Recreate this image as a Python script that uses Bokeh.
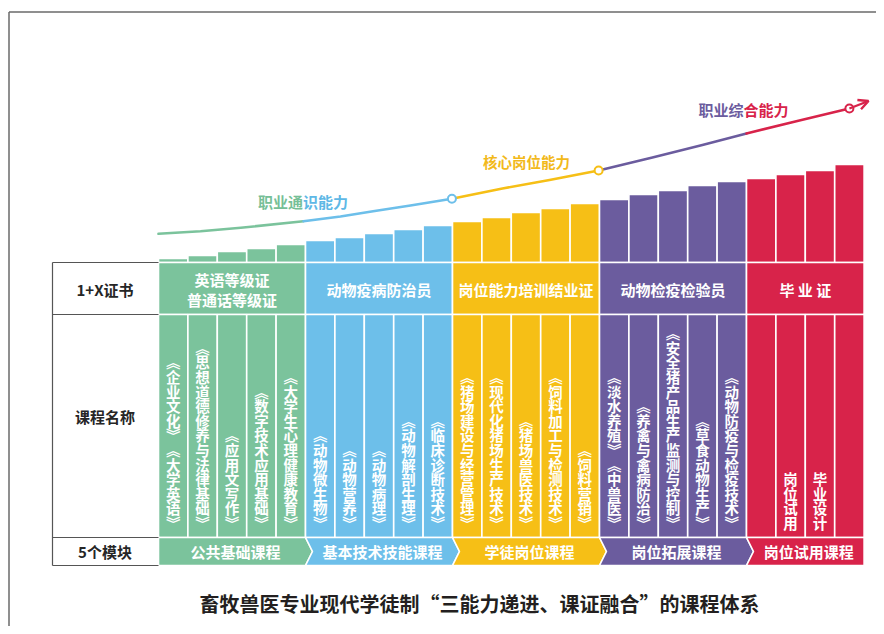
from bokeh.plotting import figure
from bokeh.models import Range1d, ColumnDataSource, Arrow, OpenHead
from bokeh.core.properties import value
from bokeh.embed import file_html
from bokeh.resources import INLINE

FONT = "Noto Sans CJK SC"

# ---------------- data ----------------
modules = ["公共基础课程", "基本技术技能课程", "学徒岗位课程", "岗位拓展课程", "岗位试用课程"]
certificates = ["英语等级证\n普通话等级证", "动物疫病防治员", "岗位能力培训结业证", "动物检疫检验员", "毕 业 证"]
group_sizes = [5, 5, 5, 5, 4]
group_colors = ["#7BC39C", "#6DBFEA", "#F6BF16", "#6B5C9E", "#D8234A"]
row_labels = ["1+X证书", "课程名称", "5个模块"]
courses = [
    "《企业文化》《大学英语》", "《思想道德修养与法律基础》", "《应用文写作》", "《数字技术应用基础》", "《大学生心理健康教育》",
    "《动物微生物》", "《动物营养》", "《动物病理》", "《动物解剖生理》", "《临床诊断技术》",
    "《猪场建设与经营管理》", "《现代化猪场生产技术》", "《猪场兽医技术》", "《饲料加工与检测技术》", "《饲料营销》",
    "《淡水养殖》《中兽医》", "《养禽与禽病防治》", "《安全猪产品生产监测与控制》", "《草食动物生产》", "《动物防疫与检疫技术》",
    "", "岗位试用", "毕业设计", "",
]
bar_levels = [4, 7, 11, 14, 18, 22, 25, 29, 33, 37, 41, 45, 50, 54, 59, 63, 68, 72, 77, 81, 84, 88, 92, 98]

# ability curve (x in course-column units, y in level units)
curve_x = [0, 1.43, 2.8, 4.93, 6.19, 7.3, 8.57, 9.98, 11.7, 13.3, 14.97, 16.8, 18.5, 20.0, 21.8, 23.5]
curve_y = [28.7, 31.3, 34.7, 41.3, 46.0, 51.3, 57.0, 63.7, 74.0, 82.5, 92.0, 105.0, 117.5, 129.0, 142.0, 154.0]
curve_breaks = [0, 3, 7, 10, 13, 15]          # indices where the curve colour changes
curve_colors = ["#7BC39C", "#6DBFEA", "#F6BF16", "#6B5C9E", "#D8234A"]
milestone_idx = [7, 10, 15]
milestone_colors = ["#6DBFEA", "#F6BF16", "#D8234A"]
arrow_tip = (24.15, 161.5)
title = "畜牧兽医专业现代学徒制“三能力递进、课证融合”的课程体系"

# ---------------- layout helpers (pixel -> data) ----------------
PITCH = 29.4
def X(px):
    return (px - 158.0) / PITCH
def Y(py):
    return 262.0 - py

W, H = 876, 626
p = figure(width=W, height=H, x_range=Range1d(X(0), X(W)), y_range=Range1d(Y(H), Y(0)),
           output_backend="svg", toolbar_location=None, min_border=0, title=None,
           x_axis_location=None, y_axis_location=None)
p.grid.visible = False
p.outline_line_color = None
p.background_fill_color = "white"
p.border_fill_color = "white"

# frame lines of the picture
p.line([X(8.5), X(884)], [Y(11.5), Y(11.5)], line_color="#6a6a6a", line_width=1.5)
p.line([X(8.5), X(8.5)], [Y(11.5), Y(640)], line_color="#6a6a6a", line_width=1.5)

# column -> group
col_group = [g for g, n in enumerate(group_sizes) for _ in range(n)]
starts = []
s = 0
for n in group_sizes:
    starts.append(s)
    s += n
ends = [st + n for st, n in zip(starts, group_sizes)]
ncol = len(courses)

# bars
bars = ColumnDataSource(dict(x=[i + 0.5 for i in range(ncol)], top=bar_levels,
                             color=[group_colors[g] for g in col_group]))
p.vbar(x="x", width=1.0, bottom=0, top="top", fill_color="color", line_color="white",
       line_width=1.6, source=bars)

# certificate row
p.quad(left=starts, right=ends, top=0, bottom=Y(314), fill_color=group_colors,
       line_color="white", line_width=1.6)
# course row
p.quad(left=list(range(ncol)), right=[i + 1 for i in range(ncol)], top=Y(314), bottom=Y(537),
       fill_color=[group_colors[g] for g in col_group], line_color="white", line_width=1.6)
# module chevrons
tip = 7.0 / PITCH
top, bot, mid = Y(537), Y(565), Y(551)
xs, ys = [], []
for g in range(len(modules)):
    xl, xr = starts[g], ends[g]
    px_, py_ = [xl, xr], [top, top]
    if g < len(modules) - 1:
        px_.append(xr + tip); py_.append(mid)
    px_ += [xr, xl]; py_ += [bot, bot]
    if g > 0:
        px_.append(xl + tip); py_.append(mid)
    xs.append(px_); ys.append(py_)
p.patches(xs, ys, fill_color=group_colors, line_color="white", line_width=1.6)

# left label column
lc = "#555555"
for yy in [262, 314, 537, 565]:
    p.line([X(52), X(158)], [Y(yy), Y(yy)], line_color=lc, line_width=1.2)
p.line([X(52), X(52)], [Y(262), Y(565)], line_color=lc, line_width=1.2)
p.text(x=[X(104.5)] * 3, y=[Y(289), Y(416), Y(551)], text=row_labels,
       text_font=value(FONT), text_font_style="bold", text_font_size="15px",
       text_color="#262626", text_align="center", text_baseline="middle")

# certificate texts
cx, cy, ct = [], [], []
for g, cert in enumerate(certificates):
    lines = cert.split("\n")
    c = (starts[g] + ends[g]) / 2
    if len(lines) == 2:
        cx += [c, c]; cy += [Y(279), Y(299)]; ct += lines
    else:
        cx.append(c); cy.append(Y(289)); ct.append(cert)
p.text(x=cx, y=cy, text=ct, text_font=value(FONT), text_font_style="bold", text_font_size="15px",
       text_color="white", text_align="center", text_baseline="middle")

# module texts
p.text(x=[(starts[g] + ends[g]) / 2 + tip / 2 for g in range(len(modules))], y=[mid] * len(modules),
       text=modules, text_font=value(FONT), text_font_style="bold", text_font_size="15px",
       text_color="white", text_align="center", text_baseline="middle")

# vertical course names
vx, vy, vt = [], [], []
STEP = 14.6
for i, name in enumerate(courses):
    chars = list(name.replace("《", "︽").replace("》", "︾"))
    n = len(chars)
    for k, ch in enumerate(chars):
        vx.append(i + 0.5)
        vy.append(Y(522) + (n - 1 - k) * STEP)
        vt.append(ch)
p.text(x=vx, y=vy, text=vt, text_font=value(FONT), text_font_style="bold", text_font_size="14.5px",
       text_color="white", text_align="center", text_baseline="middle")

# ability curve
for k in range(len(curve_colors)):
    a, b = curve_breaks[k], curve_breaks[k + 1]
    p.line(curve_x[a:b + 1], curve_y[a:b + 1], line_color=curve_colors[k], line_width=2.6,
           line_cap="round", line_join="round")
p.add_layout(Arrow(end=OpenHead(size=10, line_color="#D8234A", line_width=2.4),
                   x_start=curve_x[-1], y_start=curve_y[-1], x_end=arrow_tip[0], y_end=arrow_tip[1],
                   line_color="#D8234A", line_width=2.4))
p.scatter([curve_x[i] for i in milestone_idx], [curve_y[i] for i in milestone_idx], marker="circle",
          size=8, fill_color="white", line_color=milestone_colors, line_width=2)

# ability labels
lab = dict(text_font=value(FONT), text_font_style="bold", text_baseline="middle")
p.text(x=[X(302.5)], y=[Y(200.5)], text=["职业通"], text_color="#76BF97", text_align="right",
       text_font_size="15px", **lab)
p.text(x=[X(302.5)], y=[Y(200.5)], text=["识能力"], text_color="#5EB8E6", text_align="left",
       text_font_size="15px", **lab)
p.text(x=[X(526)], y=[Y(160.5)], text=["核心岗位能力"], text_color="#F2B91A", text_align="center",
       text_font_size="14.5px", **lab)
p.text(x=[X(743)], y=[Y(108.5)], text=["职业综"], text_color="#6B5C9E", text_align="right",
       text_font_size="15px", **lab)
p.text(x=[X(743)], y=[Y(108.5)], text=["合能力"], text_color="#D8234A", text_align="left",
       text_font_size="15px", **lab)

# title
p.text(x=[X(479)], y=[Y(603)], text=[title], text_font=value(FONT), text_font_style="bold",
       text_font_size="20px", text_color="#231F20", text_align="center", text_baseline="middle")

open("out.html", "w").write(file_html(p, INLINE))
